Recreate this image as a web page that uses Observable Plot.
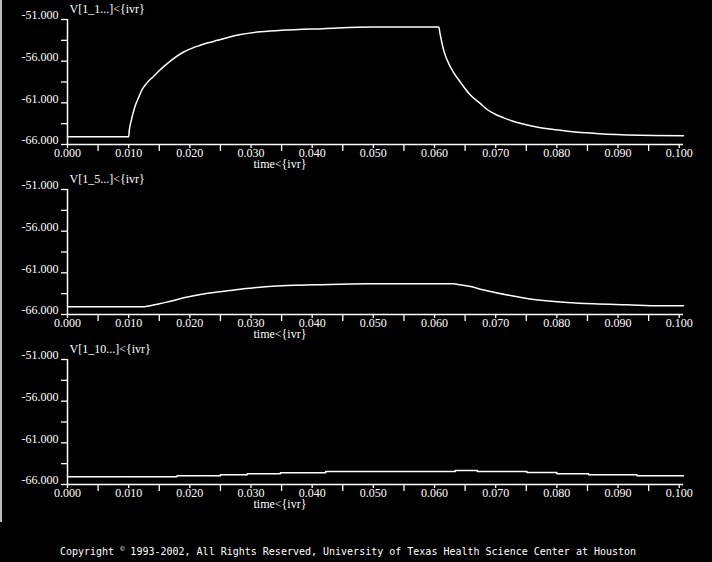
<!DOCTYPE html>
<html>
<head>
<meta charset="utf-8">
<script src="https://cdn.jsdelivr.net/npm/d3@7"></script>
<script src="https://cdn.jsdelivr.net/npm/@observablehq/plot@0.6"></script>
<style>
  html, body { margin: 0; padding: 0; background: #000; width: 712px; height: 562px; overflow: hidden; }
  #wrap { position: relative; width: 712px; height: 562px; }
  #charts { position: absolute; left: 0; top: 0; width: 712px; }
  #charts svg { display: block; }
  #edge { position: absolute; left: 0; top: 0; width: 2px; height: 522px; background: #bdbdbd; z-index: 2; }
  #copy { position: absolute; left: -8px; width: 712px; top: 545px; text-align: center; color: #fff;
          font-family: "DejaVu Sans Mono", "Liberation Mono", monospace; font-size: 10px; letter-spacing: 0px; }
  #copy sup { font-size: 7px; }
</style>
</head>
<body>
<div id="wrap">
  <div id="charts"></div>
  <div id="edge"></div>
  <div id="copy">Copyright <sup>©</sup> 1993-2002, All Rights Reserved, University of Texas Health Science Center at Houston</div>
</div>
<script>
// ---- data ----
const titles = ["V[1_1...]<{ivr}", "V[1_5...]<{ivr}", "V[1_10...]<{ivr}"];
const xLabel = "time<{ivr}";

const t1 = [0, 0.0100, 0.0101, 0.0104, 0.0107, 0.0111, 0.0116, 0.0122, 0.0130, 0.0141, 0.0152, 0.0163, 0.0175, 0.0190, 0.0205, 0.0217, 0.0230, 0.0245, 0.0265, 0.0283, 0.0310, 0.0350, 0.0418, 0.0500, 0.0607,
            0.0609, 0.0615, 0.0626, 0.0642, 0.0659, 0.0675, 0.0686, 0.0700, 0.0713, 0.0726, 0.0740, 0.0767, 0.0795, 0.0822, 0.0850, 0.0876, 0.0915, 0.0958, 0.1007];
const v1 = [-65.08, -65.08, -64.3, -63.2, -62.3, -61.3, -60.4, -59.4, -58.6, -57.8, -57.0, -56.3, -55.6, -54.9, -54.4, -54.1, -53.8, -53.5, -53.1, -52.8, -52.5, -52.3, -52.1, -51.9, -51.9,
            -52.7, -54.7, -56.7, -58.5, -60.1, -61.1, -61.8, -62.4, -62.8, -63.15, -63.45, -63.9, -64.2, -64.45, -64.6, -64.75, -64.85, -64.92, -64.96];

const t2 = [0, 0.0119, 0.0138, 0.0150, 0.0163, 0.0177, 0.0190, 0.0217, 0.0245, 0.0266, 0.0288, 0.0305, 0.0329, 0.0359, 0.0405, 0.0490, 0.0631,
            0.0642, 0.0659, 0.0675, 0.0697, 0.0724, 0.0751, 0.0778, 0.0817, 0.0860, 0.0915, 0.0969, 0.1007];
const v2 = [-65.08, -65.08, -64.9, -64.72, -64.5, -64.25, -64.0, -63.6, -63.3, -63.12, -62.9, -62.8, -62.64, -62.52, -62.44, -62.32, -62.32,
            -62.44, -62.64, -62.96, -63.32, -63.72, -64.08, -64.32, -64.56, -64.72, -64.84, -64.96, -64.96];

const t3 = [0, 0.0179, 0.0250, 0.0294, 0.0348, 0.0422, 0.0634, 0.0670, 0.0751, 0.0800, 0.0852, 0.0931, 0.1007];
const v3 = [-65.08, -64.96, -64.84, -64.72, -64.6, -64.44, -64.32, -64.44, -64.56, -64.72, -64.84, -64.96, -64.96];

const yLabelTicks = [-51, -56, -61, -66];
const yMinorTicks = [-51, -53.5, -56, -58.5, -61, -63.5, -66];
const xLabelTicks = [0, 0.01, 0.02, 0.03, 0.04, 0.05, 0.06, 0.07, 0.08, 0.09, 0.1];
const xMinorTicks = [0.005, 0.015, 0.025, 0.035, 0.045, 0.055, 0.065, 0.075, 0.085, 0.095];
const xDomain = [0, 0.1007];
const yDomain = [-66, -51];

const series = [
  {t: t1, v: v1, curve: "monotone-x"},
  {t: t2, v: v2, curve: "monotone-x"},
  {t: t3, v: v3, curve: "step-after"}
];

const host = document.getElementById("charts");
series.forEach((s, k) => {
  const rows = s.t.map((t, i) => ({t, v: s.v[i]}));
  const chart = Plot.plot({
    width: 712,
    height: 170,
    marginLeft: 67,
    marginRight: 29,
    marginTop: 19,
    marginBottom: 26,
    x: {domain: xDomain},
    y: {domain: yDomain},
    style: {background: "#000", color: "#fff", fontFamily: "'Liberation Serif', serif", fontSize: "12px"},
    marks: [
      Plot.axisY({ticks: yMinorTicks, tickSize: 6, tickFormat: () => "", label: null, strokeWidth: 1.3}),
      Plot.text(yLabelTicks, {y: d => d, text: d => d.toFixed(3), frameAnchor: "left", dx: -9, dy: -4, textAnchor: "end", fill: "#fff"}),
      Plot.axisX({ticks: xMinorTicks, tickSize: 7, tickFormat: () => "", label: null, strokeWidth: 1.3}),
      Plot.axisX({ticks: xLabelTicks, tickSize: 4, tickPadding: 0, tickFormat: d => d.toFixed(3), label: null, strokeWidth: 1.3}),
      Plot.ruleX([0], {stroke: "#fff", strokeWidth: 1.5}),
      Plot.ruleY([-66], {stroke: "#fff", strokeWidth: 1.5}),
      Plot.line(rows, {x: "t", y: "v", curve: s.curve, stroke: "#fff", strokeWidth: 1.5}),
      Plot.text([titles[k]], {frameAnchor: "top-left", dx: 2, dy: -10, textAnchor: "start", lineAnchor: "middle", fill: "#fff"}),
      Plot.text([xLabel], {frameAnchor: "bottom-left", dx: 186, dy: 20, textAnchor: "start", lineAnchor: "middle", fill: "#fff"})
    ]
  });
  host.appendChild(chart);
});
</script>
</body>
</html>
